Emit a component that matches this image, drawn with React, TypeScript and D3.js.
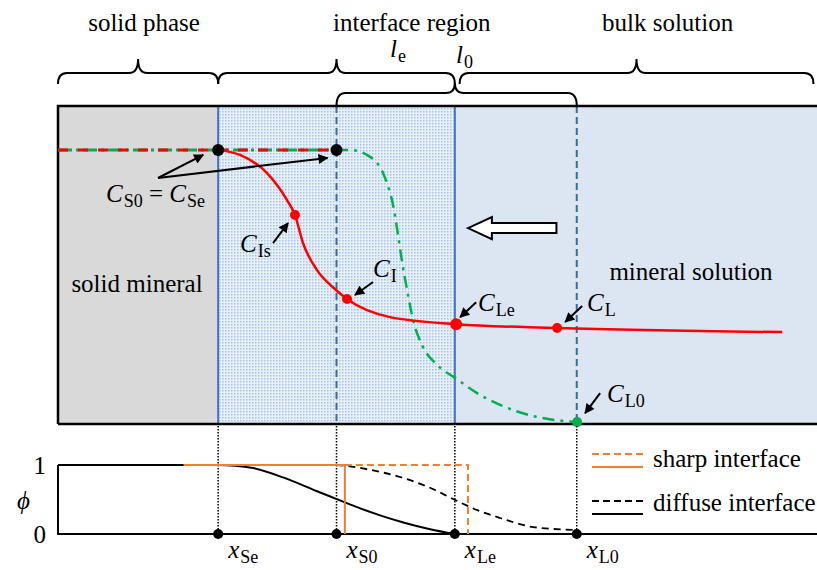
import React from 'react'
import * as d3 from 'd3'

const W = 817
const H = 570

// dimensionless distance; interface markers
const markerNames = ['Se', 'S0', 'Le', 'L0']
const markerX = [1.34, 2.33, 3.32, 4.34]

// concentration level in the solid (C_S0 = C_Se)
const plateauC = 0.862

// red curve: concentration with a diffuse interface
const redX = [1.339, 1.523, 1.749, 1.916, 1.983, 2.05, 2.167, 2.3, 2.418, 2.778, 3.331, 4.176, 6.059]
const redC = [0.862, 0.846, 0.789, 0.704, 0.657, 0.569, 0.484, 0.43, 0.393, 0.336, 0.314, 0.302, 0.289]

// green dash-dot curve: initial concentration
const greenX = [2.326, 2.444, 2.611, 2.736, 2.803, 2.845, 2.879, 2.921, 2.971, 3.046, 3.172, 3.322, 3.506, 3.699, 3.975, 4.343]
const greenC = [0.862, 0.862, 0.84, 0.774, 0.689, 0.594, 0.509, 0.421, 0.327, 0.248, 0.186, 0.145, 0.097, 0.06, 0.025, 0.006]

// labelled red points
const redPointNames = ['Is', 'I', 'Le', 'L']
const redPointX = [1.983, 2.418, 3.331, 4.176]
const redPointC = [0.657, 0.393, 0.314, 0.302]

// phase field panel
const diffuseSolidX = [0, 1.339, 1.481, 1.632, 1.883, 2.167, 2.326, 2.485, 2.695, 2.904, 3.113, 3.322]
const diffuseSolidPhi = [1, 1, 0.99, 0.955, 0.82, 0.62, 0.51, 0.4, 0.27, 0.16, 0.07, 0]
const diffuseDashX = [2.33, 2.418, 2.611, 2.862, 3.113, 3.322, 3.531, 3.699, 3.975, 4.343]
const diffuseDashPhi = [1, 0.986, 0.93, 0.826, 0.67, 0.493, 0.33, 0.232, 0.101, 0.058]
const sharpSolidX = [1.05, 2.4]
const sharpDashX = [2.4, 3.43]

const regionLabels = ['solid phase', 'interface region', 'bulk solution']
const regionLabelX = [0.72, 2.96, 5.1]
const regionStart = [0, 1.34, 3.36]
const regionEnd = [1.34, 3.32, 6.32]
const regionCusp = [0.67, 2.33, 4.84]

const legendLabels = ['sharp interface', 'diffuse interface']

const serif = "'Liberation Serif', 'Times New Roman', serif"

const x = d3.scaleLinear().domain([0, 6.35]).range([58, 817])
const yC = d3.scaleLinear().domain([0, 1]).range([424, 106])
const yPhi = d3.scaleLinear().domain([0, 1]).range([534, 465])

const brace = (x1: number, x2: number, xm: number, y: number, d: number, tip: number) => {
  const r = 9
  return `M${x1},${y + d} Q${x1},${y} ${x1 + r},${y} L${xm - r},${y} Q${xm},${y} ${xm},${y - tip} ` +
    `Q${xm},${y} ${xm + r},${y} L${x2 - r},${y} Q${x2},${y} ${x2},${y + d}`
}

const Sym = ({ px, py, main, sub, size = 25 }: any) => (
  <text x={px} y={py} fontSize={size} fontFamily={serif}>
    <tspan fontStyle="italic">{main}</tspan>
    <tspan fontSize={size * 0.72} dx={1} dy={5}>{sub}</tspan>
  </text>
)

const Arrow = ({ x1, y1, x2, y2 }: any) => (
  <line x1={x1} y1={y1} x2={x2} y2={y2} stroke="#000" strokeWidth={2} markerEnd="url(#ah)" />
)

export default function App() {
  const cLine = d3.line<number>().x((d, i) => x(redX[i])).y((d) => yC(d)).curve(d3.curveMonotoneX)
  const gLine = d3.line<number>().x((d, i) => x(greenX[i])).y((d) => yC(d)).curve(d3.curveMonotoneX)
  const sLine = d3.line<number>().x((d, i) => x(diffuseSolidX[i])).y((d) => yPhi(d)).curve(d3.curveMonotoneX)
  const dLine = d3.line<number>().x((d, i) => x(diffuseDashX[i])).y((d) => yPhi(d)).curve(d3.curveMonotoneX)

  const [xSe, xS0, xLe, xL0] = markerX.map((v) => x(v))
  const yTop = yC(plateauC)
  const pts = redPointX.map((v, i) => [x(v), yC(redPointC[i])])
  const [pIs, pI, pLe, pL] = pts
  const pL0 = [x(greenX[greenX.length - 1]), yC(greenC[greenC.length - 1])]

  // hollow arrow showing the direction of the interface motion
  const ha = { tip: x(3.43), head: x(3.63), tail: x(4.17), cy: yC(0.616) }

  return (
    <svg width={W} height={H} style={{ position: 'absolute', left: 0, top: 0, background: '#fff' }}>
      <defs>
        <pattern id="dots" width={3} height={3} patternUnits="userSpaceOnUse">
          <rect width={3} height={3} fill="#e7eff9" />
          <rect width={1.5} height={1.5} fill="#a8c3e7" />
        </pattern>
        <marker id="ah" viewBox="0 0 10 10" refX={9} refY={5} markerWidth={13} markerHeight={10}
          markerUnits="userSpaceOnUse" orient="auto">
          <path d="M0,0 L10,5 L0,10 z" fill="#000" />
        </marker>
      </defs>

      {/* region labels and braces */}
      {regionLabels.map((t, i) => (
        <g key={t}>
          <text x={x(regionLabelX[i])} y={31} fontSize={25} fontFamily={serif} textAnchor="middle">{t}</text>
          <path d={brace(x(regionStart[i]), x(regionEnd[i]), x(regionCusp[i]), 73, 11, 14)}
            fill="none" stroke="#000" strokeWidth={2} />
        </g>
      ))}
      <path d={brace(xS0, xL0, xLe, 93, 13, 10)} fill="none" stroke="#000" strokeWidth={2} />
      <Sym px={390} py={57} main="l" sub="e" />
      <Sym px={456} py={63} main="l" sub="0" />

      {/* regions */}
      <rect x={x(0)} y={yC(1)} width={xSe - x(0)} height={yC(0) - yC(1)} fill="#d9d9d9" />
      <rect x={xSe} y={yC(1)} width={xLe - xSe} height={yC(0) - yC(1)} fill="url(#dots)" />
      <rect x={xLe} y={yC(1)} width={W - xLe} height={yC(0) - yC(1)} fill="#dce6f2" />
      <line x1={xSe} x2={xSe} y1={yC(1)} y2={yC(0)} stroke="#4472c4" strokeWidth={2} />
      <line x1={xLe} x2={xLe} y1={yC(1)} y2={yC(0)} stroke="#4472c4" strokeWidth={2} />
      {[xS0, xL0].map((v, i) => (
        <line key={i} x1={v} x2={v} y1={yC(1)} y2={yC(0)} stroke="#3a6a9e" strokeWidth={2} strokeDasharray="7,4" />
      ))}
      <path d={`M${x(0)},${yC(0)} V${yC(1)} H${W}`} fill="none" stroke="#000" strokeWidth={2.5} />
      <line x1={x(0)} x2={W} y1={yC(0)} y2={yC(0)} stroke="#000" strokeWidth={2.5} />

      <text x={137} y={292} fontSize={25} fontFamily={serif} textAnchor="middle">solid mineral</text>
      <text x={691} y={280} fontSize={25} fontFamily={serif} textAnchor="middle">mineral solution</text>

      {/* hollow arrow */}
      <polygon
        points={[[ha.tip, ha.cy], [ha.head, ha.cy - 11], [ha.head, ha.cy - 5], [ha.tail, ha.cy - 5],
          [ha.tail, ha.cy + 5], [ha.head, ha.cy + 5], [ha.head, ha.cy + 11]].map((p) => p.join(',')).join(' ')}
        fill="#fff" stroke="#000" strokeWidth={2} />

      {/* concentration profiles */}
      <line x1={x(0)} x2={xS0} y1={yTop} y2={yTop} stroke="#00b050" strokeWidth={3} strokeDasharray="14,4,3,4" />
      <line x1={x(0)} x2={xS0 - 6} y1={yTop} y2={yTop} stroke="#ff0000" strokeWidth={3} strokeDasharray="10,10" />
      <path d={gLine(greenC) || ''} fill="none" stroke="#00b050" strokeWidth={2.5} strokeDasharray="12,6,3,6" />
      <path d={cLine(redC) || ''} fill="none" stroke="#ff0000" strokeWidth={2.5} />

      <circle cx={xSe} cy={yTop} r={6} fill="#000" />
      <circle cx={xS0} cy={yTop} r={6} fill="#000" />
      {pts.map((p, i) => (
        <circle key={redPointNames[i]} cx={p[0]} cy={p[1]} r={i === 2 ? 6 : 5} fill="#ff0000" />
      ))}
      <circle cx={pL0[0]} cy={pL0[1]} r={5} fill="#00b050" />

      {/* annotations */}
      <Arrow x1={158} y1={178} x2={xSe - 15} y2={yTop + 5} />
      <Arrow x1={158} y1={178} x2={xS0 - 9} y2={yTop + 8} />
      <text x={106} y={202} fontSize={25} fontFamily={serif}>
        <tspan fontStyle="italic">C</tspan>
        <tspan fontSize={18} dx={1} dy={5}>S0</tspan>
        <tspan dy={-5}> = </tspan>
        <tspan fontStyle="italic">C</tspan>
        <tspan fontSize={18} dx={1} dy={5}>Se</tspan>
      </text>
      <Arrow x1={pIs[0] - 22} y1={pIs[1] + 28} x2={pIs[0] - 7} y2={pIs[1] + 8} />
      <Sym px={240} py={252} main="C" sub="Is" />
      <Arrow x1={pI[0] + 26} y1={pI[1] - 17} x2={pI[0] + 8} y2={pI[1] - 4} />
      <Sym px={373} py={277} main="C" sub="I" />
      <Arrow x1={pLe[0] + 20} y1={pLe[1] - 22} x2={pLe[0] + 4} y2={pLe[1] - 7} />
      <Sym px={478} py={311} main="C" sub="Le" />
      <Arrow x1={pL[0] + 25} y1={pL[1] - 22} x2={pL[0] + 8} y2={pL[1] - 6} />
      <Sym px={587} py={311} main="C" sub="L" />
      <Arrow x1={pL0[0] + 23} y1={pL0[1] - 29} x2={pL0[0] + 8} y2={pL0[1] - 9} />
      <Sym px={607} py={402} main="C" sub="L0" />

      {/* phase field panel */}
      {markerX.map((v, i) => (
        <line key={i} x1={x(v)} x2={x(v)} y1={yC(0) + 2} y2={yPhi(0)} stroke="#000" strokeWidth={1.5}
          strokeDasharray="1.5,1.5" />
      ))}
      <path d={`M${x(0)},${yPhi(1)} V${yPhi(0)} H${W}`} fill="none" stroke="#000" strokeWidth={2} />
      <path d={sLine(diffuseSolidPhi) || ''} fill="none" stroke="#000" strokeWidth={2} />
      <path d={dLine(diffuseDashPhi) || ''} fill="none" stroke="#000" strokeWidth={1.8} strokeDasharray="7,5" />
      <path d={`M${x(sharpSolidX[0])},${yPhi(1)} H${x(sharpSolidX[1])} V${yPhi(0)}`} fill="none"
        stroke="#f08030" strokeWidth={2} />
      <path d={`M${x(sharpDashX[0])},${yPhi(1)} H${x(sharpDashX[1])} V${yPhi(0)}`} fill="none"
        stroke="#f08030" strokeWidth={2} strokeDasharray="7,4" />
      {markerX.map((v, i) => (
        <circle key={i} cx={x(v)} cy={yPhi(0)} r={5} fill="#000" />
      ))}
      {markerX.map((v, i) => (
        <Sym key={markerNames[i]} px={x(v) + 10} py={558} main="x" sub={markerNames[i]} />
      ))}

      <text x={46} y={474} fontSize={25} fontFamily={serif} textAnchor="end">1</text>
      <text x={46} y={543} fontSize={25} fontFamily={serif} textAnchor="end">0</text>
      <text x={17} y={509} fontSize={25} fontFamily={serif} fontStyle="italic">ϕ</text>

      {/* legend */}
      <line x1={592} x2={643} y1={454} y2={454} stroke="#f08030" strokeWidth={2} strokeDasharray="7,4" />
      <line x1={592} x2={643} y1={467} y2={467} stroke="#f08030" strokeWidth={2} />
      <line x1={592} x2={643} y1={501} y2={501} stroke="#000" strokeWidth={1.8} strokeDasharray="7,4" />
      <line x1={592} x2={643} y1={514} y2={514} stroke="#000" strokeWidth={2} />
      {legendLabels.map((t, i) => (
        <text key={t} x={653} y={467 + i * 44} fontSize={25} fontFamily={serif}>{t}</text>
      ))}
    </svg>
  )
}
